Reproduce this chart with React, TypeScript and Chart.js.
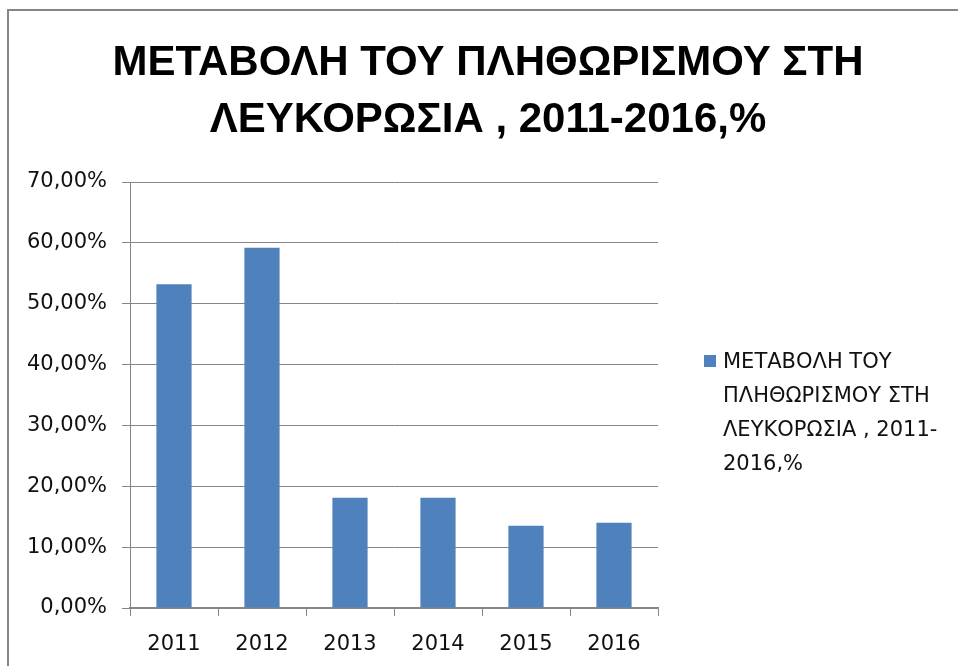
import React, { useEffect, useRef } from "react";
import { Chart, registerables } from "chart.js";

Chart.register(...registerables);

const titleLines = ["ΜΕΤΑΒΟΛΗ ΤΟΥ ΠΛΗΘΩΡΙΣΜΟΥ ΣΤΗ", "ΛΕΥΚΟΡΩΣΙΑ , 2011-2016,%"];
const seriesName = "ΜΕΤΑΒΟΛΗ ΤΟΥ ΠΛΗΘΩΡΙΣΜΟΥ ΣΤΗ ΛΕΥΚΟΡΩΣΙΑ , 2011-2016,%";
const legendLines = ["ΜΕΤΑΒΟΛΗ ΤΟΥ", "ΠΛΗΘΩΡΙΣΜΟΥ ΣΤΗ", "ΛΕΥΚΟΡΩΣΙΑ , 2011-", "2016,%"];
const years = ["2011", "2012", "2013", "2014", "2015", "2016"];
const changePct = [53.2, 59.2, 18.1, 18.1, 13.5, 14.0];
const yMin = 0;
const yMax = 70;
const yStep = 10;

const BAR = "#4F81BD";
const GRID = "#868686";
const TEXT_FONT = "'DejaVu Sans', sans-serif";

export default function App() {
  const ref = useRef<HTMLCanvasElement | null>(null);

  useEffect(() => {
    if (!ref.current) return;
    const chart = new Chart(ref.current, {
      type: "bar",
      data: {
        labels: years,
        datasets: [
          {
            label: seriesName,
            data: changePct,
            backgroundColor: BAR,
            borderWidth: 0,
            barPercentage: 0.4,
            categoryPercentage: 1,
          },
        ],
      },
      options: {
        animation: false,
        responsive: false,
        maintainAspectRatio: false,
        layout: { padding: { left: 0, right: 0, top: 0, bottom: 0 } },
        plugins: {
          legend: { display: false },
          tooltip: { enabled: false },
          title: {
            display: true,
            text: titleLines,
            color: "#000",
            font: { family: "'Liberation Sans', sans-serif", weight: "bold", size: 42, lineHeight: 1.362 },
            padding: { top: 35, bottom: 32.6 },
          },
        },
        scales: {
          x: {
            grid: {
              display: true,
              drawOnChartArea: false,
              drawTicks: true,
              tickLength: 8,
              color: GRID,
              offset: true,
            },
            border: { display: true, color: GRID, width: 1.5 },
            ticks: { color: "#111", font: { family: TEXT_FONT, size: 21 }, padding: 16 },
            afterFit: (s: any) => {
              s.height = 58;
            },
          },
          y: {
            min: yMin,
            max: yMax,
            grid: { color: GRID, tickLength: 8, lineWidth: 1 },
            border: { display: true, color: GRID, width: 1 },
            ticks: {
              stepSize: yStep,
              color: "#111",
              padding: 15,
              font: { family: TEXT_FONT, size: 21 },
              callback: (v: any) => Number(v).toFixed(2).replace(".", ",") + "%",
            },
            afterFit: (s: any) => {
              s.width = 122;
            },
          },
          y2: {
            position: "right",
            display: true,
            grid: { display: false, drawTicks: false },
            border: { display: false },
            ticks: { display: false },
            afterFit: (s: any) => {
              s.width = 310;
            },
          },
        },
      },
    });
    return () => chart.destroy();
  }, []);

  return (
    <div style={{ position: "fixed", left: 0, top: 0, width: 958, height: 666, overflow: "hidden", background: "#fff" }}>
      <div
        style={{
          position: "absolute",
          left: 7,
          top: 9,
          width: 2000,
          height: 2000,
          borderLeft: `2px solid ${GRID}`,
          borderTop: `2px solid ${GRID}`,
        }}
      />
      <canvas ref={ref} width={960} height={666} style={{ position: "absolute", left: 8, top: 0, width: 960, height: 666 }} />
      <div style={{ position: "absolute", left: 704, top: 344, fontFamily: TEXT_FONT, fontSize: 21, color: "#111" }}>
        <div style={{ position: "absolute", left: 0, top: 11, width: 12, height: 12, background: BAR }} />
        <div style={{ position: "absolute", left: 19, top: 0, lineHeight: "34px", whiteSpace: "nowrap" }}>
          {legendLines.map((l, i) => (
            <div key={i}>{l}</div>
          ))}
        </div>
      </div>
    </div>
  );
}
